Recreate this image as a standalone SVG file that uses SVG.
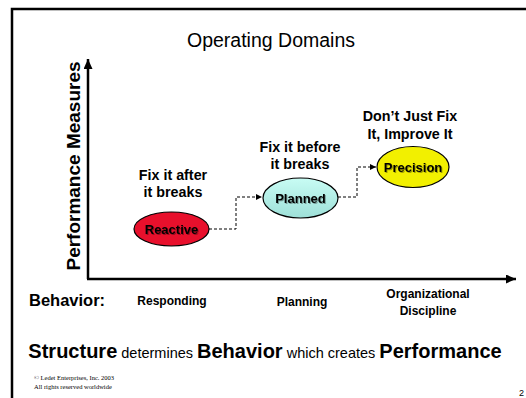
<svg xmlns="http://www.w3.org/2000/svg" width="526" height="398" viewBox="0 0 526 398">
<defs>
<style>
.b{font-family:"Liberation Sans",Arial,sans-serif;font-weight:bold;fill:#000}
.r{font-family:"Liberation Sans",Arial,sans-serif;fill:#000}
.lbl{font-size:14.3px;text-anchor:middle}
.beh{font-size:12px;text-anchor:middle}
.node{stroke:#000;stroke-width:1.2}
.conn{fill:none;stroke:#000;stroke-width:1;stroke-dasharray:3,2}
.axis{fill:none;stroke:#000;stroke-width:2.5}
.ntext{font-size:13px;text-anchor:middle}
</style>
<marker id="ah" viewBox="0 0 10 10" refX="10" refY="5" markerWidth="6" markerHeight="6" orient="auto" markerUnits="userSpaceOnUse"><path d="M0,0 L10,5 L0,10 z" fill="#000"/></marker>
<marker id="big" viewBox="0 0 10 10" refX="10" refY="5" markerWidth="10" markerHeight="9" orient="auto" markerUnits="userSpaceOnUse" preserveAspectRatio="none"><path d="M0,0 L10,5 L0,10 z" fill="#000"/></marker>
<linearGradient id="gPl" x1="0" y1="0" x2="0" y2="1"><stop offset="0" stop-color="#c8fcf4"/><stop offset="1" stop-color="#9ee0d8"/></linearGradient>
<filter id="sh" x="-10%" y="-10%" width="130%" height="130%"><feDropShadow dx="1" dy="1" stdDeviation="0.5" flood-color="#000" flood-opacity="0.35"/></filter>
</defs>
<rect width="526" height="398" fill="#fff"/>
<path d="M12,400 L12,9 L530,9" fill="none" stroke="#000" stroke-width="2.5"/>
<text class="r" x="271" y="47" font-size="19.5" text-anchor="middle">Operating Domains</text>
<g id="axes">
<path class="axis" d="M88,279 L88,59" marker-end="url(#big)"/>
<path class="axis" d="M87,279 L516,279" marker-end="url(#big)"/>
<text class="b" transform="translate(80,166) rotate(-90)" font-size="19" text-anchor="middle">Performance Measures</text>
</g>
<g id="connectors">
<path class="conn" d="M209,229 H236 V197 H262" marker-end="url(#ah)"/>
<path class="conn" d="M338,197 H357 V167 H376" marker-end="url(#ah)"/>
</g>
<g id="reactive">
<ellipse class="node" cx="171.5" cy="229" rx="37.5" ry="17" fill="#e8102c"/>
<text class="b ntext" x="171.5" y="233.5" filter="url(#sh)">Reactive</text>
</g>
<g id="planned">
<ellipse class="node" cx="300.5" cy="198" rx="37.5" ry="20" fill="url(#gPl)"/>
<text class="b ntext" x="300.5" y="202.5" filter="url(#sh)">Planned</text>
</g>
<g id="precision">
<ellipse class="node" cx="413" cy="167" rx="36" ry="20.5" fill="#f2f000"/>
<text class="b ntext" x="413" y="171.5" filter="url(#sh)">Precision</text>
</g>
<g id="labels">
<text class="b lbl" x="173" y="180">Fix it after</text>
<text class="b lbl" x="173" y="197">it breaks</text>
<text class="b lbl" x="300" y="152">Fix it before</text>
<text class="b lbl" x="300" y="169">it breaks</text>
<text class="b lbl" x="410" y="121">Don’t Just Fix</text>
<text class="b lbl" x="410" y="139">It, Improve It</text>
</g>
<g id="behavior">
<text class="b" x="29" y="306" font-size="16.5">Behavior:</text>
<text class="b beh" x="172" y="305">Responding</text>
<text class="b beh" x="302" y="306">Planning</text>
<text class="b beh" x="428" y="298" font-size="13">Organizational</text>
<text class="b beh" x="428" y="315" font-size="13">Discipline</text>
</g>
<text x="265" y="358" text-anchor="middle" font-family="Liberation Sans,Arial,sans-serif"><tspan font-weight="bold" font-size="20">Structure</tspan><tspan font-size="14.5"> determines </tspan><tspan font-weight="bold" font-size="20">Behavior</tspan><tspan font-size="14.5"> which creates </tspan><tspan font-weight="bold" font-size="20">Performance</tspan></text>
<text x="34" y="380" font-family="Liberation Serif,Times New Roman,serif" font-size="6.5" fill="#000">© Ledet Enterprises, Inc. 2003</text>
<text x="34" y="389" font-family="Liberation Serif,Times New Roman,serif" font-size="6.5" fill="#000">All rights reserved worldwide</text>
<text class="r" x="519" y="396" font-size="9">2</text>
</svg>
